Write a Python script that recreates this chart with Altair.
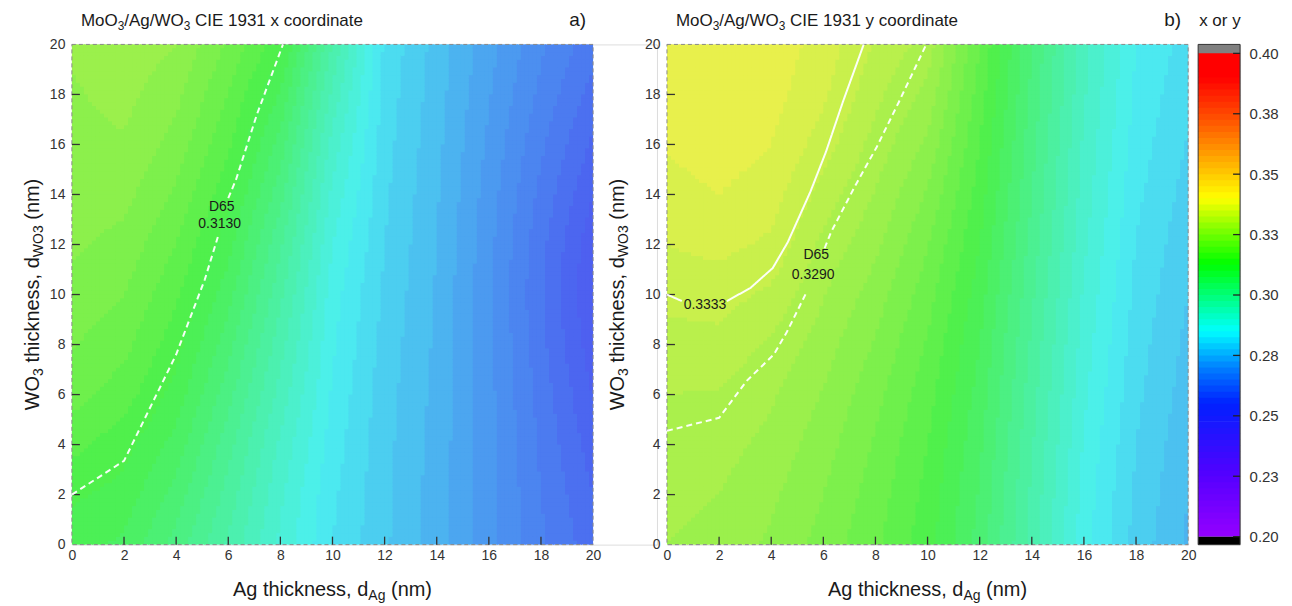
import altair as alt
import pandas as pd

# ---------------- data ----------------
AG_NM = [0, 2, 4, 6, 8, 10, 12, 14, 16, 18, 20]
WO3_NM = [0, 2, 4, 6, 8, 10, 12, 14, 16, 18, 20]

# CIE 1931 x : one list per Ag thickness, values along WO3 = 0..20
CIE_X = [
    [0.3110, 0.3130, 0.3158, 0.3185, 0.3202, 0.3217, 0.3230, 0.3237, 0.3243, 0.3247, 0.3254],
    [0.3095, 0.3115, 0.3135, 0.3162, 0.3183, 0.3200, 0.3217, 0.3233, 0.3247, 0.3258, 0.3268],
    [0.3040, 0.3065, 0.3090, 0.3115, 0.3135, 0.3155, 0.3175, 0.3195, 0.3215, 0.3232, 0.3250],
    [0.2970, 0.2990, 0.3010, 0.3035, 0.3060, 0.3085, 0.3110, 0.3133, 0.3155, 0.3175, 0.3195],
    [0.2895, 0.2905, 0.2920, 0.2940, 0.2960, 0.2982, 0.3005, 0.3035, 0.3065, 0.3098, 0.3135],
    [0.2825, 0.2830, 0.2838, 0.2846, 0.2854, 0.2862, 0.2875, 0.2893, 0.2915, 0.2943, 0.2975],
    [0.2780, 0.2781, 0.2783, 0.2786, 0.2790, 0.2795, 0.2800, 0.2805, 0.2810, 0.2815, 0.2820],
    [0.2735, 0.2737, 0.2740, 0.2742, 0.2745, 0.2747, 0.2750, 0.2753, 0.2757, 0.2761, 0.2765],
    [0.2685, 0.2685, 0.2684, 0.2683, 0.2682, 0.2680, 0.2683, 0.2688, 0.2695, 0.2702, 0.2710],
    [0.2630, 0.2625, 0.2620, 0.2615, 0.2608, 0.2603, 0.2608, 0.2618, 0.2630, 0.2643, 0.2655],
    [0.2585, 0.2575, 0.2562, 0.2548, 0.2535, 0.2525, 0.2532, 0.2550, 0.2570, 0.2590, 0.2610],
]
# CIE 1931 y
CIE_Y = [
    [0.3275, 0.3283, 0.3288, 0.3300, 0.3315, 0.3333, 0.3350, 0.3365, 0.3378, 0.3388, 0.3393],
    [0.3265, 0.3275, 0.3285, 0.3298, 0.3318, 0.3335, 0.3358, 0.3375, 0.3388, 0.3397, 0.3400],
    [0.3245, 0.3255, 0.3267, 0.3279, 0.3295, 0.3320, 0.3345, 0.3362, 0.3375, 0.3385, 0.3390],
    [0.3215, 0.3225, 0.3236, 0.3248, 0.3262, 0.3277, 0.3293, 0.3315, 0.3338, 0.3355, 0.3365],
    [0.3180, 0.3188, 0.3197, 0.3208, 0.3222, 0.3238, 0.3256, 0.3273, 0.3290, 0.3307, 0.3323],
    [0.3135, 0.3142, 0.3150, 0.3160, 0.3172, 0.3186, 0.3202, 0.3222, 0.3245, 0.3267, 0.3289],
    [0.3065, 0.3072, 0.3080, 0.3090, 0.3100, 0.3112, 0.3125, 0.3138, 0.3150, 0.3163, 0.3175],
    [0.2965, 0.2970, 0.2978, 0.2986, 0.2995, 0.3005, 0.3015, 0.3025, 0.3034, 0.3043, 0.3050],
    [0.2860, 0.2865, 0.2872, 0.2880, 0.2888, 0.2896, 0.2905, 0.2913, 0.2920, 0.2928, 0.2935],
    [0.2790, 0.2795, 0.2800, 0.2806, 0.2812, 0.2818, 0.2824, 0.2831, 0.2838, 0.2844, 0.2850],
    [0.2745, 0.2750, 0.2756, 0.2762, 0.2768, 0.2775, 0.2782, 0.2790, 0.2798, 0.2806, 0.2815],
]

# contour lines (Ag, WO3), split where the labels sit
D65_X_LINE = [
    ("a", [0, 2, 4, 5.1, 5.6], [2.0, 3.35, 7.6, 10.6, 12.3]),
    ("b", [6.0, 6.3, 7.1, 8.1], [13.85, 14.6, 17.2, 20.0]),
]
D65_Y_LINE = [
    ("a", [0, 2, 3.06, 4.1, 4.6, 5.36], [4.55, 5.07, 6.55, 7.6, 8.5, 10.1]),
    ("b", [6.05, 6.3, 7.2, 8.05, 8.9, 9.95], [11.85, 12.5, 14.3, 15.9, 17.7, 20.0]),
]
Y3333_LINE = [
    ("a", [0, 0.57], [10.0, 9.74]),
    ("b", [2.3, 3.2, 4.06, 4.64, 5.5, 6.1, 6.75, 7.55], [9.74, 10.26, 11.06, 12.1, 14.1, 15.7, 17.7, 20.0]),
]
LABELS_A = {"text": ["D65", "0.3130"], "ag": [5.75, 5.67], "wo3": [13.5, 12.83]}
LABELS_B = {"text": ["D65", "0.3290", "0.3333"], "ag": [5.73, 5.61, 1.46], "wo3": [11.58, 10.8, 9.6]}

AXIS_TICKS = [0, 2, 4, 6, 8, 10, 12, 14, 16, 18, 20]
INNER_TICKS = [2, 4, 6, 8, 10, 12, 14, 16, 18]
CBAR_TICKS = [0.2, 0.225, 0.25, 0.275, 0.3, 0.325, 0.35, 0.375, 0.4]

# colour map (Origin rainbow)
CMAP_STOPS = [0.200, 0.225, 0.255, 0.270, 0.285, 0.299, 0.313, 0.327, 0.340, 0.356, 0.372, 0.390, 0.400]
CMAP_COLORS = ["#9500ff", "#5500ff", "#0020ff", "#0080ff", "#00ffff", "#00ff80", "#00ff00",
               "#80ff00", "#ffff00", "#ffaa00", "#ff5500", "#ff0000", "#ff0000"]


def blend(hexc, a=0.645, bg=214):
    r, g, b = int(hexc[1:3], 16), int(hexc[3:5], 16), int(hexc[5:7], 16)
    return "#%02x%02x%02x" % tuple(round(a * c + (1 - a) * bg) for c in (r, g, b))


HEAT_COLORS = [blend(c) for c in CMAP_COLORS]

GRID = pd.DataFrame(
    [{"key": f"{i}_{j}", "xv": CIE_X[i][j], "yv": CIE_Y[i][j]}
     for i in range(len(AG_NM)) for j in range(len(WO3_NM))]
)
ONE = pd.DataFrame({"k": [0]})

PW, PH = 522, 501          # plot area of each panel
FONT = "Liberation Sans"
TXT = "#1a1a1a"

W = {' ': 278, '(': 333, ')': 333, ',': 278, '/': 278, '.': 278, 'A': 667, 'C': 722, 'E': 667,
     'I': 278, 'M': 833, 'O': 778, 'W': 944, 'a': 556, 'c': 500, 'd': 556, 'e': 556, 'g': 556,
     'h': 556, 'i': 222, 'k': 500, 'm': 833, 'n': 556, 'o': 556, 'r': 333, 's': 500, 't': 278,
     'x': 500, 'y': 500}


def tw(s, fs):
    return sum(W.get(c, 556) for c in s) * fs / 1000.0


def run_layers(segs, size, base, center=None, start=None, angle=0, sub_ratio=0.7, sub_shift=0.22):
    items = []
    for t, sub in segs:
        fs = size * sub_ratio if sub else size
        items.append((t, fs, size * sub_shift if sub else 0.0))
    total = sum(tw(t, fs) for t, fs, _ in items)
    if start is None:
        start = center - total / 2 if angle == 0 else center + total / 2
    pos = start
    out = []
    sgn = 1 if angle == 0 else -1
    for t, fs, sh in items:
        lead = len(t) - len(t.lstrip(' '))
        pos += sgn * lead * 278 * fs / 1000.0
        t2 = t.lstrip(' ')
        px, py = (pos, base + sh) if angle == 0 else (base + sh, pos)
        out.append(alt.Chart(ONE).mark_text(text=t2, fontSize=fs, align='left', baseline='alphabetic',
                                            angle=angle, color=TXT, font=FONT)
                   .encode(x=alt.value(px), y=alt.value(py)))
        pos += sgn * tw(t2, fs)
    return out


def line_df(segs):
    rows = []
    for name, ags, ws in segs:
        for k, (a, w) in enumerate(zip(ags, ws)):
            rows.append({"seg": name, "ord": k, "ag": a, "wo3": w})
    return pd.DataFrame(rows)


def panel(field, letter, coord, ytitle_base, lines, labels, extra_width=0, anchor=False):
    XS = alt.Scale(domain=[0, 20], range=[0, PW], nice=False, zero=False)
    YS = alt.Scale(domain=[0, 20], nice=False, zero=False)
    AX = alt.Axis(values=AXIS_TICKS, title=None, domain=False, grid=False, ticks=False, tickSize=0,
                  labelPadding=4, labelFontSize=14, labelColor='#333', labelFlush=False, format='d',
                  labelFont=FONT)
    AY = alt.Axis(values=AXIS_TICKS, title=None, domain=False, grid=False, ticks=False, tickSize=0,
                  labelPadding=7, labelFontSize=14, labelColor='#333', labelFlush=False, format='d',
                  labelFont=FONT)
    N = 130
    S = 20.0 / N
    ch = alt.Chart(alt.sequence(0, N * N, as_='idx')).transform_calculate(
        ix=f'floor(datum.idx / {N})',
        iy=f'datum.idx % {N}',
    ).transform_calculate(
        gx=f'(datum.ix + 0.5) * {S}',
        gy=f'(datum.iy + 0.5) * {S}',
        xa=f'datum.ix * {S}',
        xb=f'min((datum.ix + 1) * {S} + 0.035, 20)',
        ya=f'datum.iy * {S}',
        yb=f'min((datum.iy + 1) * {S} + 0.035, 20)',
        ci='min(floor(datum.gx / 2), 9)',
        cj='min(floor(datum.gy / 2), 9)',
    ).transform_calculate(
        tx='datum.gx / 2 - datum.ci',
        ty='datum.gy / 2 - datum.cj',
        k00="datum.ci + '_' + datum.cj",
        k10="(datum.ci + 1) + '_' + datum.cj",
        k01="datum.ci + '_' + (datum.cj + 1)",
        k11="(datum.ci + 1) + '_' + (datum.cj + 1)",
    )
    for k in ["00", "10", "01", "11"]:
        ch = ch.transform_lookup(lookup='k' + k,
                                 from_=alt.LookupData(data=GRID, key='key', fields=[field]),
                                 as_=['v' + k])
    heat = ch.transform_calculate(
        v='datum.v00*(1-datum.tx)*(1-datum.ty) + datum.v10*datum.tx*(1-datum.ty)'
          ' + datum.v01*(1-datum.tx)*datum.ty + datum.v11*datum.tx*datum.ty'
    ).transform_calculate(
        band='(floor(datum.v / 0.0025) + 0.5) * 0.0025'
    ).mark_rect().encode(
        x=alt.X('xa:Q', scale=XS, axis=AX),
        x2='xb:Q',
        y=alt.Y('ya:Q', scale=YS, axis=AY),
        y2='yb:Q',
        color=alt.Color('band:Q', scale=alt.Scale(domain=CMAP_STOPS, range=HEAT_COLORS, interpolate='rgb'),
                        legend=None),
    )

    frame = alt.Chart(pd.DataFrame({"x0": [0], "x1": [20], "y0": [0], "y1": [20]})).mark_rect(
        fillOpacity=0, stroke='#8a8a8a', strokeDash=[4, 3], strokeWidth=1
    ).encode(x=alt.X('x0:Q', scale=XS, axis=AX), x2='x1:Q', y=alt.Y('y0:Q', scale=YS, axis=AY), y2='y1:Q')

    tdf = pd.DataFrame({"t": INNER_TICKS})
    xt = alt.Chart(tdf).mark_rule(color='#333', strokeWidth=1.3).encode(
        x=alt.X('t:Q', scale=XS, axis=AX), y=alt.value(PH), y2=alt.value(PH - 8))
    yt = alt.Chart(tdf).mark_rule(color='#333', strokeWidth=1.3).encode(
        y=alt.Y('t:Q', scale=YS, axis=AY), x=alt.value(0), x2=alt.value(8))

    layers = [heat, frame, xt, yt]
    for name, segs, dash, sw in lines:
        layers.append(alt.Chart(line_df(segs)).mark_line(color='white', strokeWidth=sw, strokeDash=dash,
                                                         opacity=0.95).encode(
            x=alt.X('ag:Q', scale=XS, axis=AX), y=alt.Y('wo3:Q', scale=YS, axis=AY),
            detail='seg:N', order='ord:Q'))
    layers.append(alt.Chart(pd.DataFrame(labels)).mark_text(fontSize=14, color=TXT, font=FONT).encode(
        x=alt.X('ag:Q', scale=XS, axis=AX), y=alt.Y('wo3:Q', scale=YS, axis=AY), text='text:N'))

    layers += run_layers([("MoO", False), ("3", True), ("/Ag/WO", False), ("3", True),
                          (f" CIE 1931 {coord} coordinate", False)], 17, base=-18, start=9)
    layers.append(alt.Chart(ONE).mark_text(text=letter, fontSize=19, align='right', baseline='alphabetic',
                                           color=TXT, font=FONT).encode(x=alt.value(PW - 7), y=alt.value(-18)))
    layers += run_layers([("Ag thickness, d", False), ("Ag", True), (" (nm)", False)], 20,
                         base=552, center=PW / 2)
    layers += run_layers([("WO", False), ("3", True), (" thickness, d", False), ("WO3", True), (" (nm)", False)],
                         20, base=ytitle_base, center=PH / 2, angle=270)
    if anchor:
        layers.append(alt.Chart(ONE).mark_rect(opacity=0).encode(
            x=alt.value(-63), x2=alt.value(-61), y=alt.value(-35), y2=alt.value(-33)))
    return alt.layer(*layers).properties(width=PW + extra_width, height=PH)


panel_a = panel('xv', 'a)', 'x', -33,
                [("d65", D65_X_LINE, [6, 4], 2)], LABELS_A, extra_width=64, anchor=True)
panel_b = panel('yv', 'b)', 'y', -43,
                [("d65", D65_Y_LINE, [6, 4], 2), ("y3333", Y3333_LINE, [1, 0], 2)], LABELS_B)

# ---------------- colour bar ----------------
CB_LO, CB_HI = 0.1967, 0.4037
CBS = alt.Scale(domain=[CB_LO, CB_HI], nice=False, zero=False)
CBA = alt.Axis(orient='right', values=CBAR_TICKS, format='.2f', title=None, domain=False, grid=False,
               ticks=False, tickSize=0, labelPadding=9, labelFontSize=15, labelColor='#333',
               labelFlush=False, labelFont=FONT)
levels = alt.Chart(alt.sequence(0, 80, as_='i')).transform_calculate(
    lo='0.2 + datum.i * 0.0025',
    hi='0.2 + (datum.i + 1) * 0.0025 + 0.0003',
    mid='0.2 + (datum.i + 0.5) * 0.0025',
).mark_rect().encode(
    x=alt.value(0), x2=alt.value(42),
    y=alt.Y('lo:Q', scale=CBS, axis=CBA), y2='hi:Q',
    color=alt.Color('mid:Q', scale=alt.Scale(domain=CMAP_STOPS, range=CMAP_COLORS, interpolate='rgb'),
                    legend=None),
)
low_end = alt.Chart(pd.DataFrame({"lo": [CB_LO], "hi": [0.2]})).mark_rect(color='#000000').encode(
    x=alt.value(0), x2=alt.value(42), y=alt.Y('lo:Q', scale=CBS, axis=CBA), y2='hi:Q')
high_end = alt.Chart(pd.DataFrame({"lo": [0.4], "hi": [CB_HI]})).mark_rect(color='#808080').encode(
    x=alt.value(0), x2=alt.value(42), y=alt.Y('lo:Q', scale=CBS, axis=CBA), y2='hi:Q')
cframe = alt.Chart(pd.DataFrame({"lo": [CB_LO], "hi": [CB_HI]})).mark_rect(
    fillOpacity=0, stroke='#333', strokeWidth=1).encode(
    x=alt.value(0), x2=alt.value(42), y=alt.Y('lo:Q', scale=CBS, axis=CBA), y2='hi:Q')
cticks = alt.Chart(pd.DataFrame({"t": CBAR_TICKS})).mark_rule(color='#222', strokeWidth=1.3).encode(
    y=alt.Y('t:Q', scale=CBS, axis=CBA), x=alt.value(35), x2=alt.value(42))
ctitle = alt.Chart(ONE).mark_text(text='x or y', fontSize=17, align='left', baseline='alphabetic',
                                  color=TXT, font=FONT).encode(x=alt.value(1), y=alt.value(-18))
cbar = alt.layer(levels, low_end, high_end, cframe, cticks, ctitle).properties(width=42, height=PH)

chart = alt.hconcat(panel_a, panel_b, cbar, spacing=10, bounds='flush').resolve_scale(
    color='independent'
).properties(
    padding={"left": 0, "top": 0, "right": 5, "bottom": 2}
).configure_view(stroke=None).configure(font=FONT)

chart.save("out.html", embed_options={"renderer": "svg", "actions": False})
